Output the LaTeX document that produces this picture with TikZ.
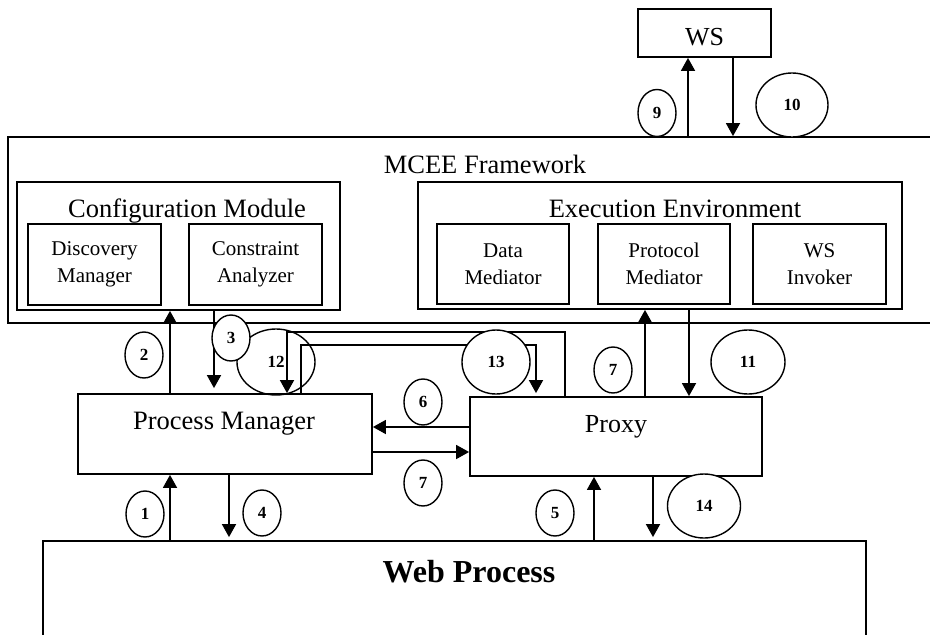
\documentclass[tikz,border=0pt]{standalone}
\usepackage{fontspec}
\setmainfont{Liberation Serif}
\usetikzlibrary{arrows.meta,shapes.geometric}
\begin{document}
\begin{tikzpicture}[x=1pt,y=-1pt,
  box/.style={draw,line width=1.8pt,inner sep=0pt,rectangle},
  inbox/.style={box,minimum width=133pt,minimum height=81pt,align=center,font=\fontsize{21}{27}\selectfont},
  num/.style={draw,ellipse,line width=1.4pt,inner sep=0pt,fill=white,minimum width=38pt,minimum height=46pt,font=\bfseries\fontsize{17}{17}\selectfont},
  arr/.style={line width=1.7pt,-{Triangle[length=13pt,width=14pt]}},
  ttl/.style={anchor=base,inner sep=0pt,font=\fontsize{26.5}{30}\selectfont}]
\useasboundingbox (0,0) rectangle (930,635);
\clip (0,0) rectangle (930,635);
% boxes
\node[box,minimum width=133pt,minimum height=48pt] (ws) at (704.5,33) {};
\node[ttl,font=\fontsize{26}{30}\selectfont] (wst) at (704.5,45) {WS};
\node[box,minimum width=952pt,minimum height=186pt] (fw) at (484,230) {};
\node[ttl] (fwt) at (485,173) {MCEE Framework};
\node[box,minimum width=323pt,minimum height=128pt] (cm) at (178.5,246) {};
\node[ttl] (cmt) at (187,217) {Configuration Module};
\node[inbox] (dm) at (94.5,264.5) {Discovery\\Manager};
\node[inbox] (ca) at (255.5,264.5) {Constraint\\Analyzer};
\node[box,minimum width=484pt,minimum height=127pt] (ee) at (660,245.5) {};
\node[ttl] (eet) at (675,217) {Execution Environment};
\node[inbox,minimum width=132pt,minimum height=80pt] (dmed) at (503,264) {Data\\Mediator};
\node[inbox,minimum width=132pt,minimum height=80pt] (pmed) at (664,264) {Protocol\\Mediator};
\node[inbox,minimum height=80pt] (wsi) at (819.5,264) {WS\\Invoker};
\node[box,minimum width=294pt,minimum height=80pt] (pm) at (225,434) {};
\node[ttl] (pmt) at (224,429) {Process Manager};
\node[box,minimum width=292pt,minimum height=79pt] (px) at (616,436.5) {};
\node[ttl,font=\fontsize{26}{30}\selectfont] (pxt) at (616,432) {Proxy};
\node[box,minimum width=823pt,minimum height=158pt] (wp) at (454.5,620) {};
\node[ttl,font=\bfseries\fontsize{32}{36}\selectfont] (wpt) at (469,582) {Web Process};
% x positions
\coordinate (x170) at (170,0);
\coordinate (x214) at (214,0);
\coordinate (x229) at (229,0);
\coordinate (x287) at (287,0);
\coordinate (x301) at (301,0);
\coordinate (x536) at (536,0);
\coordinate (x565) at (565,0);
\coordinate (x594) at (594,0);
\coordinate (x645) at (645,0);
\coordinate (x653) at (653,0);
\coordinate (x688) at (688,0);
\coordinate (x689) at (689,0);
\coordinate (x733) at (733,0);
\coordinate (y332) at (0,332);
\coordinate (y345) at (0,345);
\coordinate (y427) at (0,427);
\coordinate (y452) at (0,452);
% unfilled ellipse 12
\node[num,fill=none,minimum width=78pt,minimum height=66pt] (e12) at (276,362) {12};
% arrows
\draw[arr] (fw.north -| x688) -- (ws.south -| x688);
\draw[arr] (ws.south -| x733) -- (fw.north -| x733);
\draw[arr] (pm.north -| x170) -- (cm.south -| x170);
\draw[arr,shorten >=5pt] (cm.south -| x214) -- (pm.north -| x214);
\draw[arr] (px.north -| x565) -- (x565 |- y332) -- (x287 |- y332) -- (pm.north -| x287);
\draw[arr,shorten >=3pt] (pm.north -| x301) -- (x301 |- y345) -- (x536 |- y345) -- (px.north -| x536);
\draw[arr] (px.west |- y427) -- (pm.east |- y427);
\draw[arr] (pm.east |- y452) -- (px.west |- y452);
\draw[arr] (px.north -| x645) -- (ee.south -| x645);
\draw[arr] (ee.south -| x689) -- (px.north -| x689);
\draw[arr] (wp.north -| x170) -- (pm.south -| x170);
\draw[arr,shorten >=3pt] (pm.south -| x229) -- (wp.north -| x229);
\draw[arr] (wp.north -| x594) -- (px.south -| x594);
\draw[arr,shorten >=3pt] (px.south -| x653) -- (wp.north -| x653);
% numbered ellipses
\node[num,minimum height=47pt] (e9) at (657,113) {9};
\node[num,minimum width=72pt,minimum height=64pt] (e10) at (792,105) {10};
\node[num] (e2) at (144,355) {2};
\node[num] (e3) at (231,338) {3};
\node[num,minimum width=68pt,minimum height=64pt] (e13) at (496,362) {13};
\node[num] (e6) at (423,402) {6};
\node[num] (e7a) at (613,370) {7};
\node[num,minimum width=74pt,minimum height=64pt] (e11) at (748,362) {11};
\node[num] (e7b) at (423,483) {7};
\node[num] (e1) at (145,514) {1};
\node[num] (e4) at (262,513) {4};
\node[num] (e5) at (555,513) {5};
\node[num,minimum width=73pt,minimum height=64pt] (e14) at (704,506) {14};
\end{tikzpicture}
\end{document}
